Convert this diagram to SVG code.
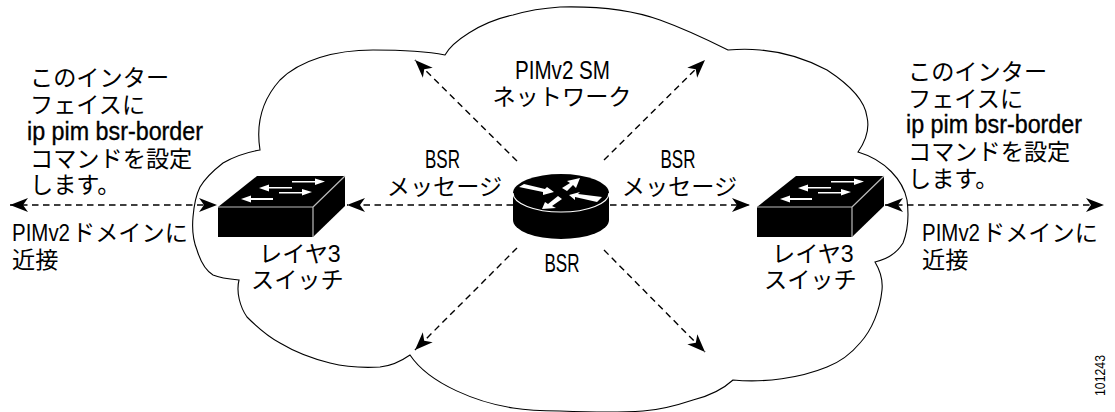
<svg xmlns="http://www.w3.org/2000/svg" width="1115" height="412" viewBox="0 0 1115 412">
<style>
text{font-family:"Liberation Sans","Noto Sans CJK JP",sans-serif;font-size:23.2px;fill:#000}
.l{font-size:26px}
.c{text-anchor:middle}
.b{font-size:25px;stroke:#000;stroke-width:.35}
.d{fill:none;stroke:#000;stroke-width:1.4;stroke-dasharray:6.500 4.500}
.cloud{fill:#fff;stroke:#000;stroke-width:1.1}
.g{fill:none;stroke:#bbb;stroke-width:1.2}
.w{fill:#fff}
</style>
<defs>
<marker id="a" markerUnits="userSpaceOnUse" markerWidth="20" markerHeight="16" refX="18" refY="8" orient="auto-start-reverse"><path d="M0 1L18 8L0 15L5 8Z"/></marker>
<g id="sw">
<path d="M218 207L257 176H345V206L313 237H218Z"/>
<path class="g" d="M218 207H313V237M313 207L345 176"/>
<path class="w" d="M292 181H315V178.500L325 181.500L315 185V182.500H292Z"/>
<path class="w" d="M259 188L269 184.500V187H292V188.500H269V191.500Z"/>
<path class="w" d="M279 192H302V189L312 192L302 195.500V193.500H279Z"/>
<path class="w" d="M241 199L251 195.500V198H273V200H251V202.500Z"/>
</g>
</defs>
<g id="cloud"><path class="cloud" d="M260 150C256 125 262 100 280 80C300 60 335 50 373 50C400 50 425 51 445 55C452 42 480 22 513 15C530 10 545 8 560 7C600 6 635 11 660 20C685 29 708 40 728 50C740 49 750 49 760 50C785 52 808 60 827 70C850 85 865 100 867 117C870 130 865 142 858 152C885 160 903 180 907 200C909 215 908 230 903 243C897 253 888 259 875 262C881 272 883 280 882 290C880 310 872 330 860 343C850 355 840 362 827 367C800 378 765 383 733 380C720 392 705 397 693 400C678 405 660 410 643 411C615 413 585 412 560 411C540 411 525 410 513 408C480 403 430 385 410 355C400 362 390 366 380 367C363 368 346 367 330 363C310 358 295 352 280 343C265 335 255 325 247 317C240 307 236 292 239 280C228 279 220 278 213 275C205 270 200 260 197 250C193 240 192 228 193 217C194 205 196 195 200 187C206 177 214 170 223 163C235 156 248 152 260 150Z"/></g>
<g id="connectors">
<path class="d" marker-end="url(#a)" d="M517 161L415 60"/>
<path class="d" marker-end="url(#a)" d="M604 160L705 60"/>
<path class="d" marker-end="url(#a)" d="M517 248L415 350"/>
<path class="d" marker-end="url(#a)" d="M604 250L705 352"/>
<path class="d" marker-end="url(#a)" d="M513 205H347"/>
<path class="d" marker-end="url(#a)" d="M610 205H750"/>
<path class="d" marker-start="url(#a)" marker-end="url(#a)" d="M10 205H217"/>
<path class="d" marker-start="url(#a)" marker-end="url(#a)" d="M885 205H1104"/>
</g>
<g id="router">
<path d="M513 193A48 19 0 0 1 609 193V220A48 19 0 0 1 513 220Z"/>
<path fill="none" stroke="#fff" stroke-width="1.2" d="M513 193A48 19 0 0 0 609 193"/>
<path class="w" d="M519 187L524 184L545 189L547 187L554 192L543 195L543 192Z"/>
<path class="w" d="M562 188L567 191L573 185L576 188L580 178L567 181L570 183Z"/>
<path class="w" d="M569 195L580 192L578 194L602 197L597 202L575 197L575 200Z"/>
<path class="w" d="M542 209L545 202L548 204L558 196L562 199L552 206L556 208Z"/>
</g>
<g id="switch-left"><use href="#sw"/></g>
<g id="switch-right"><use href="#sw" x="539"/></g>
<g id="label-network"><text class="l" x="515" y="79" textLength="95" lengthAdjust="spacingAndGlyphs">PIMv2 SM</text><text class="c" x="562" y="105">ネットワーク</text></g>
<g id="label-left">
<text x="30" y="86">このインター</text>
<text x="30" y="113">フェイスに</text>
<text class="b" x="27" y="140" textLength="176" lengthAdjust="spacingAndGlyphs">ip pim bsr-border</text>
<text x="30" y="167">コマンドを設定</text>
<text x="30" y="193">します。</text>
<text x="12" y="241" textLength="58" lengthAdjust="spacingAndGlyphs">PIMv2</text>
<text x="72" y="241">ドメインに</text>
<text x="12" y="268">近接</text>
</g>
<g id="label-right">
<text x="908" y="80">このインター</text>
<text x="908" y="107">フェイスに</text>
<text class="b" x="906" y="133" textLength="176" lengthAdjust="spacingAndGlyphs">ip pim bsr-border</text>
<text x="908" y="160">コマンドを設定</text>
<text x="908" y="187">します。</text>
<text x="922" y="241" textLength="58" lengthAdjust="spacingAndGlyphs">PIMv2</text>
<text x="982" y="241">ドメインに</text>
<text x="922" y="268">近接</text>
</g>
<g id="label-bsr-left"><text class="l c" x="442.500" y="168" textLength="35" lengthAdjust="spacingAndGlyphs">BSR</text><text class="c" x="444.500" y="195">メッセージ</text></g>
<g id="label-bsr-right"><text class="l c" x="678" y="168" textLength="35" lengthAdjust="spacingAndGlyphs">BSR</text><text class="c" x="679.500" y="195">メッセージ</text></g>
<g id="label-bsr"><text class="l c" x="562" y="272" textLength="35" lengthAdjust="spacingAndGlyphs">BSR</text></g>
<g id="label-l3-left"><text x="259" y="262">レイヤ3</text><text x="251" y="288">スイッチ</text></g>
<g id="label-l3-right"><text x="772" y="262">レイヤ3</text><text x="764" y="288">スイッチ</text></g>
<text transform="translate(1105 396) rotate(-90)" style="font-size:14px" textLength="41" lengthAdjust="spacingAndGlyphs">101243</text>
</svg>
